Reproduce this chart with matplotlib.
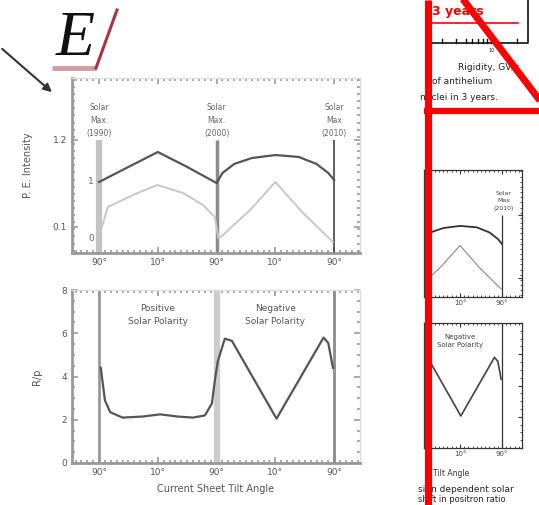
import numpy as np
import matplotlib
matplotlib.use("Agg")
import matplotlib.pyplot as plt

W, H = 539, 505

# x positions: 0 = 90 deg, 1 = 10 deg, 2 = 90 deg, 3 = 10 deg, 4 = 90 deg
tick_pos = [0, 1, 2, 3, 4]
tick_lab = ['90°', '10°', '90°', '10°', '90°']

# top panel: P.E. intensity (two curves)
dark_x = [0, 0.5, 1.0, 1.5, 2.0, 2.1, 2.3, 2.6, 3.0, 3.4, 3.7, 3.9, 4.0]
dark_y = [0.669, 0.859, 1.048, 0.859, 0.656, 0.783, 0.897, 0.972, 1.010, 0.985, 0.897, 0.783, 0.694]
light_x = [0.03, 0.07, 0.15, 0.58, 0.99, 1.43, 1.77, 1.97, 2.03, 2.11, 2.57, 3.0, 3.47, 3.98]
light_y = [0.062, 0.150, 0.353, 0.505, 0.631, 0.530, 0.378, 0.226, -0.039, 0.0, 0.315, 0.669, 0.277, -0.090]

# bottom panel: ratio
ratio_x = [0.03, 0.10, 0.19, 0.40, 0.75, 1.04, 1.33, 1.60, 1.80, 1.92, 1.97, 2.02, 2.14, 2.26, 3.02, 3.82, 3.90, 3.98]
ratio_y = [4.4, 2.9, 2.35, 2.1, 2.15, 2.25, 2.15, 2.1, 2.2, 2.75, 3.8, 4.7, 5.75, 5.65, 2.05, 5.8, 5.55, 4.4]

solar_max = ['Solar\nMax.\n(1990)', 'Solar\nMax.\n(2000)', 'Solar\nMax\n(2010)']


def px_rect(x0, y0, x1, y1):
    return [x0 / W, 1 - y1 / H, (x1 - x0) / W, (y1 - y0) / H]


def style_axes(ax, col='#999999', fs=6.5, lw=2.0):
    ax.set_xticks(tick_pos)
    ax.set_xticklabels(tick_lab)
    ax.set_xticks(np.arange(-0.4, 4.45, 0.1), minor=True)
    ax.tick_params(which='both', direction='in', top=True, right=True, colors=col,
                   labelcolor='#555555', labelsize=fs)
    ax.tick_params(which='major', length=4, width=1.2)
    ax.tick_params(which='minor', length=2.5, width=1.2)
    for s in ['left', 'bottom']:
        ax.spines[s].set_color(col)
        ax.spines[s].set_linewidth(lw)
    for s in ['top', 'right']:
        ax.spines[s].set_color('#dddddd')
        ax.spines[s].set_linewidth(1)


fig = plt.figure(figsize=(W / 100, H / 100), dpi=100)

# ---- main top panel
ax1 = fig.add_axes(px_rect(72, 78, 360, 253))
style_axes(ax1)
ax1.set_yticks([0.1, 1.2])
ax1.set_yticklabels(['0.1', '1.2'])
ax1.set_yticks(np.arange(-0.2, 1.98, 0.09), minor=True)
ax1.set_xlim(-0.46, 4.44)
ax1.set_ylim(-0.229, 1.984)
ax1.vlines(0, -0.229, 1.2, color='#c4c4c4', lw=4.5)
ax1.vlines(2, -0.229, 1.2, color='#8c8c8c', lw=2.5)
ax1.vlines(4, -0.229, 1.2, color='#444444', lw=1.2)
ax1.plot(dark_x, dark_y, color='#555555', lw=1.6)
ax1.plot(light_x, light_y, color='#c8c8c8', lw=1.4)
ax1.text(-0.14, 0.675, '1', fontsize=6.5, color='#666666', ha='center', va='center')
ax1.text(-0.14, -0.04, '0', fontsize=6.5, color='#666666', ha='center', va='center')
for xp, lab in zip([0, 2, 4], solar_max):
    ax1.text(xp, 1.45, lab, fontsize=5.5, color='#666666', ha='center', va='center',
             linespacing=1.6)
ax1.set_ylabel('P. E. Intensity', fontsize=7, color='#555555', labelpad=14)

# ---- main bottom panel
ax2 = fig.add_axes(px_rect(72, 290, 360, 463))
style_axes(ax2)
ax2.set_yticks([0, 2, 4, 6, 8])
ax2.set_yticks(np.arange(0, 8.01, 0.5), minor=True)
ax2.set_xlim(-0.46, 4.44)
ax2.set_ylim(0, 8)
ax2.axvline(0, color='#999999', lw=2)
ax2.axvline(2, color='#cccccc', lw=4.5)
ax2.axvline(4, color='#8c8c8c', lw=2)
ax2.plot(ratio_x, ratio_y, color='#555555', lw=1.6)
ax2.text(1.0, 6.85, 'Positive\nSolar Polarity', fontsize=6.5, color='#555555',
         ha='center', va='center', linespacing=1.5)
ax2.text(3.0, 6.85, 'Negative\nSolar Polarity', fontsize=6.5, color='#555555',
         ha='center', va='center', linespacing=1.5)
ax2.set_ylabel('R/p', fontsize=7, color='#555555', labelpad=14)
ax2.set_xlabel('Current Sheet Tilt Angle', fontsize=7, color='#555555', labelpad=5)

# ---- small copies in the right-hand panel
ax3 = fig.add_axes(px_rect(424, 170, 522, 297))
ax4 = fig.add_axes(px_rect(424, 323, 522, 448))
for ax in (ax3, ax4):
    ax.set_xticks(tick_pos)
    ax.set_xticklabels(tick_lab)
    ax.set_xticks(np.arange(2.2, 4.45, 0.1), minor=True)
    ax.tick_params(which='both', direction='in', top=True, right=True, colors='#333333',
                   labelsize=5, labelcolor='#444444', pad=2)
    ax.tick_params(which='major', length=3)
    ax.tick_params(which='minor', length=1.5)
    for s in ax.spines.values():
        s.set_linewidth(0.9)
        s.set_color('#333333')
ax3.set_yticks([0.1, 1.2])
ax3.set_yticks(np.arange(-0.2, 1.98, 0.09), minor=True)
ax3.set_yticklabels([])
ax3.set_xlim(2.143, 4.476)
ax3.set_ylim(-0.229, 1.984)
ax3.vlines(4, -0.229, 1.2, color='#333333', lw=0.9)
ax3.plot(dark_x, dark_y, color='#333333', lw=1.3)
ax3.plot(light_x, light_y, color='#888888', lw=0.8)
ax3.text(4.05, 1.45, solar_max[2], fontsize=4.5, color='#444444', ha='center',
         va='center', linespacing=1.6)
ax4.set_yticks([0, 2, 4, 6, 8])
ax4.set_yticks(np.arange(0, 8.01, 0.5), minor=True)
ax4.set_yticklabels([])
ax4.set_xlim(2.143, 4.476)
ax4.set_ylim(0, 8)
ax4.axvline(4, color='#333333', lw=0.9)
ax4.plot(ratio_x, ratio_y, color='#444444', lw=1.2)
ax4.text(3.0, 6.85, 'Negative\nSolar Polarity', fontsize=5, color='#444444',
         ha='center', va='center', linespacing=1.5)

# ---- overlay in pixel coordinates
ov = fig.add_axes([0, 0, 1, 1])
ov.set_xlim(0, W)
ov.set_ylim(H, 0)
ov.axis('off')
ov.set_zorder(10)
ov.patch.set_visible(False)

ov.text(75, 40, 'E', fontsize=46, family='Liberation Serif', style='italic',
        ha='center', va='center', color='#111111')
ov.plot([52, 96], [68, 68], color='#d49aa2', lw=3.5, solid_capstyle='butt')
ov.plot([96, 117], [68, 10], color='#a83444', lw=2.2)
ov.annotate('', xy=(54, 94), xytext=(0, 47),
            arrowprops=dict(arrowstyle='-|>', color='#333333', lw=1.5, mutation_scale=12))

# right-hand panel texts (partly under the red frame)
ov.text(432, 12, '3 years', fontsize=9, color='#ff0000', fontweight='bold',
        ha='left', va='center', zorder=2)
ov.plot([432, 518], [23, 23], color='#ff0000', lw=1.2, zorder=2)
ov.plot([428, 528, 528], [43, 43, 0], color='#111111', lw=1.2, zorder=2)
for xt in [442, 456, 466, 472, 478, 483, 487, 491, 517]:
    ov.plot([xt, xt], [43, 39], color='#111111', lw=1, zorder=2)
ov.text(492, 51, '10', fontsize=3.5, color='#222222', ha='center', va='center', zorder=2)
ov.text(458, 67, 'Rigidity, GV/c', fontsize=6.5, color='#222222', ha='left',
        va='center', zorder=2)
ov.text(432, 82, 'of antihelium', fontsize=6.5, color='#222222', ha='left',
        va='center', zorder=2)
ov.text(420, 98, 'nuclei in 3 years.', fontsize=6.5, color='#222222', ha='left',
        va='center', zorder=2)
ov.text(433, 473, 'Tilt Angle', fontsize=5.5, color='#333333', ha='left',
        va='center', zorder=2)
ov.text(418, 490, 'sign dependent solar', fontsize=6.5, color='#222222', ha='left',
        va='center', zorder=2)
ov.text(418, 500, 'shift in positron ratio', fontsize=6, color='#222222', ha='left',
        va='center', zorder=2)

# red frame on top
ov.plot([427.5, 427.5], [0, H], color='#ff0000', lw=5.2, solid_capstyle='butt', zorder=5)
ov.plot([424, W], [110.5, 110.5], color='#ff0000', lw=4.5, solid_capstyle='butt', zorder=5)
ov.plot([462, W + 2], [-2, 102], color='#ff0000', lw=5, solid_capstyle='butt', zorder=5)

fig.savefig('out.png', dpi=100)
